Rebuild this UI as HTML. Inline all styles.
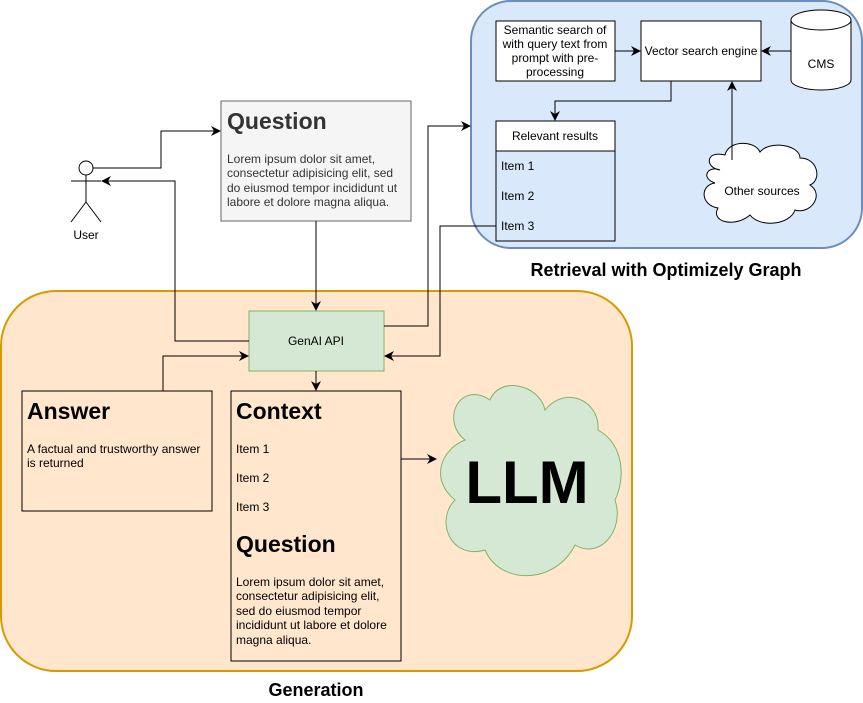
<!DOCTYPE html>
<html><head><meta charset="utf-8"><style>
html,body{margin:0;padding:0;background:#fff;}
svg{display:block;font-family:"Liberation Sans",Helvetica,Arial,sans-serif;}
</style></head><body>
<svg width="863" height="703" viewBox="0 0 863 703" xmlns="http://www.w3.org/2000/svg">
<defs>
<marker id="a" viewBox="0 0 10 10" refX="9" refY="5" markerWidth="10" markerHeight="10" markerUnits="userSpaceOnUse" orient="auto">
<path d="M0,0 L10,5 L0,10 L3,5 Z" fill="#000"/>
</marker>
</defs>
<rect x="471" y="1" width="391" height="247" rx="40" fill="#dae8fc" stroke="#6c8ebf" stroke-width="2"/>
<rect x="1" y="291" width="631" height="380" rx="55" fill="#ffe6cc" stroke="#d79b00" stroke-width="2"/>
<text x="666" y="276" font-size="18" font-weight="bold" text-anchor="middle">Retrieval with Optimizely Graph</text>
<text x="316" y="696" font-size="18" font-weight="bold" text-anchor="middle">Generation</text>

<rect x="496" y="21" width="119" height="60" fill="#fff" stroke="#000"/>
<text font-size="12" text-anchor="middle"><tspan x="555" y="34">Semantic search of</tspan><tspan x="555" y="48">with query text from</tspan><tspan x="555" y="62">prompt with pre-</tspan><tspan x="555" y="76">processing</tspan></text>
<rect x="641" y="21" width="120" height="60" fill="#fff" stroke="#000"/>
<text x="701" y="55" font-size="12" text-anchor="middle">Vector search engine</text>
<path d="M791,20 L791,80 A30,10 0 0 0 851,80 L851,20" fill="#fff" stroke="#000"/>
<ellipse cx="821" cy="20" rx="30" ry="10" fill="#fff" stroke="#000"/>
<text x="821" y="68" font-size="12" text-anchor="middle">CMS</text>
<rect x="496" y="121" width="119" height="120" fill="#fff" stroke="#000"/>
<rect x="496" y="151" width="119" height="90" fill="#dae8fc" stroke="#000"/>
<text x="555" y="140" font-size="12" text-anchor="middle">Relevant results</text>
<text font-size="12"><tspan x="501" y="170">Item 1</tspan><tspan x="501" y="200">Item 2</tspan><tspan x="501" y="230">Item 3</tspan></text>
<path d="M720,170 C705,168 705,150 725,155 C728,140 755,140 760,152 C770,140 800,145 800,158 C818,158 822,180 810,185 C825,195 810,215 795,210 C790,225 760,228 750,215 C735,228 710,222 718,208 C700,205 700,185 715,183 C700,178 708,165 720,170 Z" fill="#fff" stroke="#000"/>
<text x="762" y="195" font-size="12" text-anchor="middle">Other sources</text>

<rect x="221" y="101" width="190" height="120" fill="#f5f5f5" stroke="#666"/>
<text x="227" y="129" font-size="23" font-weight="bold" fill="#333">Question</text>
<text font-size="12" fill="#333"><tspan x="227" y="163">Lorem ipsum dolor sit amet,</tspan><tspan x="227" y="177">consectetur adipisicing elit, sed</tspan><tspan x="227" y="192">do eiusmod tempor incididunt ut</tspan><tspan x="227" y="206">labore et dolore magna aliqua.</tspan></text>

<circle cx="86" cy="168" r="7" fill="#fff" stroke="#000"/>
<path d="M86,175 L86,202 M71,181 L101,181 M86,202 L71,222 M86,202 L101,222" stroke="#000" fill="none"/>
<text x="86" y="239" font-size="12" text-anchor="middle">User</text>

<rect x="249" y="311" width="135" height="60" fill="#d5e8d4" stroke="#82b366"/>
<text x="316" y="345" font-size="12" text-anchor="middle">GenAI API</text>
<rect x="22" y="391" width="190" height="120" fill="none" stroke="#000"/>
<text x="27" y="419" font-size="23" font-weight="bold">Answer</text>
<text font-size="12"><tspan x="27" y="453">A factual and trustworthy answer</tspan><tspan x="27" y="467">is returned</tspan></text>
<rect x="231" y="391" width="170" height="270" fill="none" stroke="#000"/>
<text x="236" y="419" font-size="23" font-weight="bold">Context</text>
<text font-size="12"><tspan x="236" y="453">Item 1</tspan><tspan x="236" y="482">Item 2</tspan><tspan x="236" y="511">Item 3</tspan></text>
<text x="236" y="552" font-size="23" font-weight="bold">Question</text>
<text font-size="12"><tspan x="236" y="586">Lorem ipsum dolor sit amet,</tspan><tspan x="236" y="600">consectetur adipisicing elit,</tspan><tspan x="236" y="615">sed do eiusmod tempor</tspan><tspan x="236" y="629">incididunt ut labore et dolore</tspan><tspan x="236" y="644">magna aliqua.</tspan></text>
<path d="M465,440 C440,420 460,380 490,400 C500,375 540,385 545,410 C565,385 600,400 598,430 C625,445 625,480 615,500 C625,530 600,560 575,545 C555,585 500,585 485,550 C450,560 435,520 455,500 C430,480 440,450 465,440 Z" fill="#d5e8d4" stroke="#82b366"/>
<text x="527" y="503" font-size="60" font-weight="bold" text-anchor="middle">LLM</text>

<g fill="none" stroke="#000" stroke-width="1">
<path d="M93,168 L161,168 L161,131 L220,131" marker-end="url(#a)"/>
<path d="M249,341 L175,341 L175,181 L102,181" marker-end="url(#a)"/>
<path d="M316,221 L316,310" marker-end="url(#a)"/>
<path d="M384,326 L428,326 L428,126 L470,126" marker-end="url(#a)"/>
<path d="M496,226 L440,226 L440,356 L385,356" marker-end="url(#a)"/>
<path d="M163,391 L163,356 L248,356" marker-end="url(#a)"/>
<path d="M316,371 L316,390" marker-end="url(#a)"/>
<path d="M401,459 L436,459" marker-end="url(#a)"/>
<path d="M615,51 L640,51" marker-end="url(#a)"/>
<path d="M791,51 L762,51" marker-end="url(#a)"/>
<path d="M671,81 L671,101 L555,101 L555,120" marker-end="url(#a)"/>
<path d="M732,160 L732,82" marker-end="url(#a)"/>
</g>
</svg>
</body></html>
